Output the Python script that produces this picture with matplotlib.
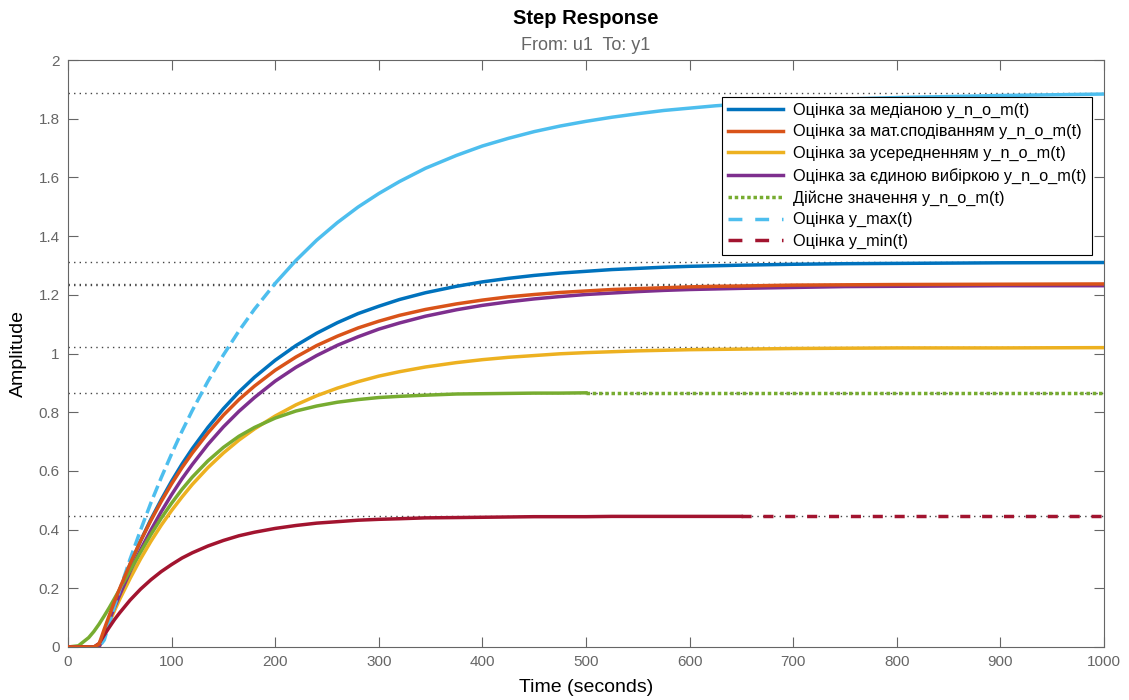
import matplotlib
matplotlib.use('Agg')
import matplotlib.pyplot as plt
from matplotlib.lines import Line2D

plt.rcParams['font.family'] = ['Liberation Sans', 'DejaVu Sans']

# ---- data ----
time_s = [0, 10, 20, 25, 30, 35, 40, 45, 50, 60, 70, 80, 90, 100, 110, 120, 135, 150,
          165, 180, 200, 220, 240, 260, 280, 300, 320, 345, 375, 400, 425, 450, 475, 500,
          525, 550, 575, 600, 625, 650, 700, 750, 800, 900, 1000]

y_median = [0, 0, 0, 0, 0, 0.052, 0.102, 0.149, 0.195, 0.282, 0.361, 0.435, 0.502, 0.565,
            0.623, 0.676, 0.748, 0.812, 0.869, 0.919, 0.977, 1.027, 1.069, 1.105, 1.136,
            1.161, 1.184, 1.207, 1.229, 1.244, 1.256, 1.266, 1.274, 1.280, 1.286, 1.290,
            1.294, 1.297, 1.299, 1.301, 1.304, 1.306, 1.307, 1.309, 1.310]

y_expect = [0, 0, 0, 0, 0.010, 0.061, 0.109, 0.156, 0.200, 0.284, 0.361, 0.431, 0.496,
            0.556, 0.611, 0.661, 0.729, 0.790, 0.843, 0.889, 0.943, 0.988, 1.027, 1.059,
            1.087, 1.110, 1.130, 1.150, 1.169, 1.182, 1.193, 1.201, 1.208, 1.213, 1.218,
            1.221, 1.224, 1.227, 1.229, 1.230, 1.233, 1.234, 1.235, 1.236, 1.237]

y_average = [0, 0, 0, 0, 0, 0.043, 0.085, 0.125, 0.163, 0.234, 0.300, 0.360, 0.415, 0.465,
             0.511, 0.554, 0.611, 0.661, 0.705, 0.743, 0.787, 0.825, 0.856, 0.882, 0.904,
             0.923, 0.938, 0.954, 0.969, 0.979, 0.987, 0.993, 0.999, 1.003, 1.006, 1.009,
             1.011, 1.013, 1.014, 1.015, 1.017, 1.018, 1.019, 1.019, 1.020]

y_single = [0, 0, 0, 0, 0, 0.047, 0.093, 0.136, 0.178, 0.257, 0.331, 0.398, 0.461, 0.519,
            0.573, 0.622, 0.690, 0.750, 0.803, 0.850, 0.906, 0.953, 0.993, 1.028, 1.057,
            1.083, 1.104, 1.127, 1.149, 1.164, 1.176, 1.186, 1.194, 1.201, 1.206, 1.211,
            1.215, 1.218, 1.220, 1.222, 1.225, 1.228, 1.229, 1.231, 1.231]

y_true = [0, 0.004, 0.032, 0.053, 0.078, 0.106, 0.135, 0.166, 0.197, 0.261, 0.323, 0.383,
          0.439, 0.490, 0.537, 0.579, 0.634, 0.680, 0.718, 0.748, 0.780, 0.804, 0.821,
          0.834, 0.843, 0.850, 0.854, 0.858, 0.862, 0.863, 0.864, 0.865, 0.865, 0.866,
          0.866, 0.866, 0.866, 0.866, 0.866, 0.866, 0.866, 0.866, 0.866, 0.866, 0.866]

y_max = [0, 0, 0, 0, 0, 0.024, 0.083, 0.140, 0.195, 0.300, 0.398, 0.491, 0.577, 0.658,
         0.735, 0.806, 0.905, 0.995, 1.077, 1.151, 1.239, 1.317, 1.386, 1.446, 1.499,
         1.545, 1.586, 1.631, 1.675, 1.707, 1.733, 1.756, 1.775, 1.791, 1.805, 1.817,
         1.828, 1.836, 1.844, 1.850, 1.860, 1.867, 1.872, 1.879, 1.884]

y_min = [0, 0, 0, 0, 0.012, 0.041, 0.068, 0.094, 0.117, 0.160, 0.197, 0.229, 0.257, 0.281,
         0.303, 0.321, 0.344, 0.363, 0.379, 0.391, 0.404, 0.414, 0.422, 0.427, 0.432,
         0.435, 0.437, 0.440, 0.441, 0.442, 0.443, 0.444, 0.444, 0.444, 0.445, 0.445,
         0.445, 0.445, 0.445, 0.445, 0.445, 0.445, 0.445, 0.445, 0.445]

steady_state = [1.889, 1.311, 1.237, 1.232, 1.021, 0.867, 0.446]

labels = ['Оцінка за медіаною y_n_o_m(t)',
          'Оцінка за мат.сподіванням y_n_o_m(t)',
          'Оцінка за усередненням y_n_o_m(t)',
          'Оцінка за єдиною вибіркою y_n_o_m(t)',
          'Дійсне значення y_n_o_m(t)',
          'Оцінка y_max(t)',
          'Оцінка y_min(t)']

x_ticks = [0, 100, 200, 300, 400, 500, 600, 700, 800, 900, 1000]
y_ticks = [0, 0.2, 0.4, 0.6, 0.8, 1, 1.2, 1.4, 1.6, 1.8, 2]
y_tick_labels = ['0', '0.2', '0.4', '0.6', '0.8', '1', '1.2', '1.4', '1.6', '1.8', '2']

# ---- style ----
C_BLUE = '#0072BD'
C_ORANGE = '#D95319'
C_YELLOW = '#EDB120'
C_PURPLE = '#7E2F8E'
C_GREEN = '#77AC30'
C_LBLUE = '#4DBEEE'
C_RED = '#A2142F'
LW = 2.5
GRAY = '#666666'

fig = plt.figure(figsize=(11.29, 7.0), dpi=100)
ax = fig.add_axes([68 / 1129, 53 / 700, 1036 / 1129, 587 / 700])

for lvl in steady_state:
    ax.axhline(lvl, color='#444444', lw=1.0, ls=(0, (1, 3)), zorder=1)


def split(ts, ys, t_cut):
    i = ts.index(t_cut)
    return (ts[:i + 1], ys[:i + 1]), (ts[i:], ys[i:])


ax.plot(time_s, y_median, color=C_BLUE, lw=LW, zorder=3)
ax.plot(time_s, y_average, color=C_YELLOW, lw=LW, zorder=3)
ax.plot(time_s, y_single, color=C_PURPLE, lw=LW, zorder=3)

(g1, g2) = split(time_s, y_true, 500)
ax.plot(*g1, color=C_GREEN, lw=LW, zorder=3)
ax.plot(*g2, color=C_GREEN, lw=LW, ls=(0, (1, 0.8)), zorder=3)

(b1, b2) = split(time_s, y_max, 200)
ax.plot(*b1, color=C_LBLUE, lw=LW, ls=(0, (3.5, 1.5)), zorder=4)
ax.plot(*b2, color=C_LBLUE, lw=LW, zorder=4)

(r1, r2) = split(time_s, y_min, 650)
ax.plot(*r1, color=C_RED, lw=LW, zorder=4)
ax.plot(*r2, color=C_RED, lw=LW, ls=(0, (2.9, 3.4)), zorder=4)

ax.plot(time_s, y_expect, color=C_ORANGE, lw=LW, zorder=5)

ax.set_xlim(0, 1000)
ax.set_ylim(0, 2)
ax.set_xticks(x_ticks)
ax.set_xticklabels([str(v) for v in x_ticks])
ax.set_yticks(y_ticks)
ax.set_yticklabels(y_tick_labels)
ax.tick_params(direction='in', top=True, right=True, length=7, width=0.8,
               colors=GRAY, labelsize=11, pad=6)
for s in ax.spines.values():
    s.set_color(GRAY)
    s.set_linewidth(0.8)

fig.text(0.519, 1 - 18 / 700, 'Step Response', ha='center', va='center',
         fontsize=14.5, fontweight='bold', color='black')
fig.text(0.519, 1 - 45 / 700, 'From: u1  To: y1', ha='center', va='center',
         fontsize=13, color='#666666')
fig.text(0.519, 1 - 688 / 700, 'Time (seconds)', ha='center', va='center',
         fontsize=14, color='black')
fig.text(18 / 1129, 1 - 353 / 700, 'Amplitude', ha='center', va='center',
         rotation=90, fontsize=14, color='black')

handles = [Line2D([], [], color=C_BLUE, lw=LW),
           Line2D([], [], color=C_ORANGE, lw=LW),
           Line2D([], [], color=C_YELLOW, lw=LW),
           Line2D([], [], color=C_PURPLE, lw=LW),
           Line2D([], [], color=C_GREEN, lw=LW, ls=(0, (1, 0.8))),
           Line2D([], [], color=C_LBLUE, lw=LW, ls=(0, (4, 3.7))),
           Line2D([], [], color=C_RED, lw=LW, ls=(0, (4, 3.7)))]
leg = ax.legend(handles, labels, loc='upper right', bbox_to_anchor=(0.988, 0.937),
                fontsize=11.7, handlelength=3.4, handletextpad=0.6, labelspacing=0.40,
                borderpad=0.35, borderaxespad=0, fancybox=False, framealpha=1,
                edgecolor='black')
leg.get_frame().set_linewidth(0.8)
leg.set_zorder(10)

fig.savefig('out.png', dpi=100)
